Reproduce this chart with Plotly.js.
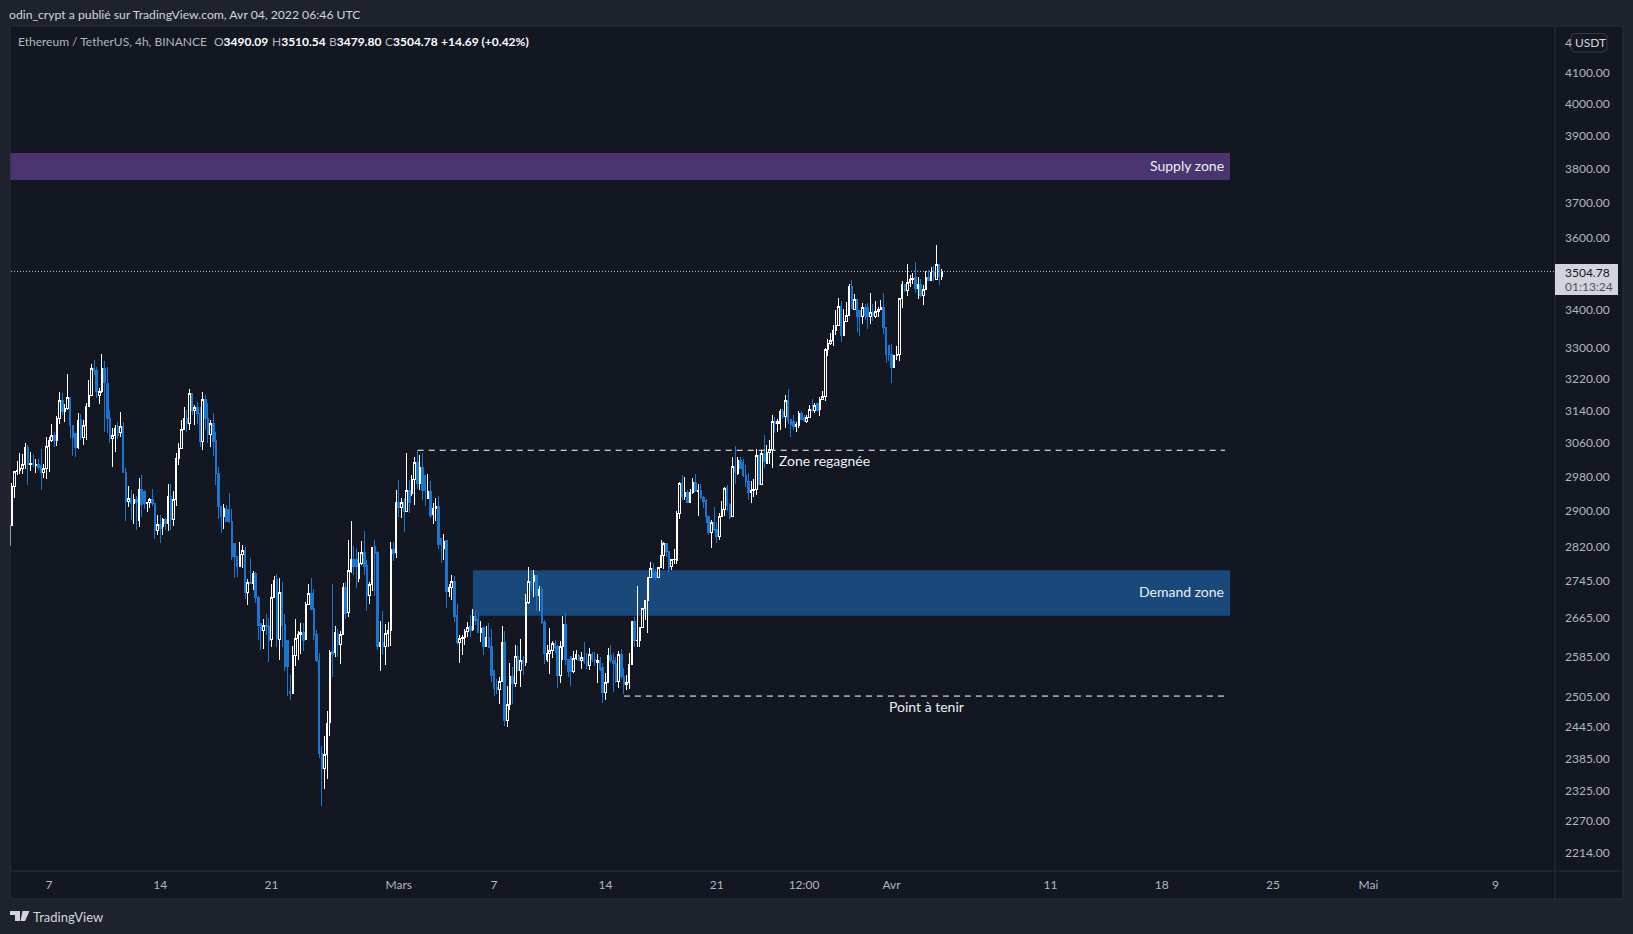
<!DOCTYPE html>
<html><head><meta charset="utf-8">
<script src="https://cdn.plot.ly/plotly-3.0.1.min.js"></script>
<style>html,body{margin:0;padding:0;background:#1e222d;overflow:hidden}#c{width:1633px;height:934px}
.boxlayer path{shape-rendering:crispEdges}</style>
</head><body><div id="c"></div>
<script>
const firstBar = Date.UTC(2022,1,4,16);
const open = [
2868,2956,2992,2994,3000,3010,3050,3010,3012,3006,
3010,3006,2990,3000,3053,3066,3079,3066,3121,3166,
3137,3145,3172,3104,3084,3050,3117,3073,3103,3150,
3178,3247,3241,3177,3187,3247,3208,3121,3071,3078,
3100,3086,3101,2990,2923,2930,2917,2928,2878,2950,
2945,2917,2920,2928,2917,2855,2870,2865,2882,2872,
2934,2880,2926,3024,3048,3094,3121,3108,3183,3139,
3148,3133,3064,3167,3121,3080,3108,3066,2988,2910,
2889,2905,2905,2877,2826,2798,2777,2802,2811,2720,
2742,2740,2761,2709,2654,2640,2650,2647,2620,2709,
2747,2621,2719,2652,2619,2516,2512,2587,2623,2631,
2635,2620,2694,2717,2685,2631,2578,2395,2367,2393,
2454,2596,2594,2633,2610,2631,2730,2676,2765,2792,
2792,2750,2783,2807,2779,2713,2736,2820,2808,2606,
2615,2606,2633,2639,2814,2806,2919,2908,2920,2900,
2947,2941,2973,3014,2965,3002,2982,2930,2946,2892,
2906,2911,2838,2815,2833,2722,2731,2743,2670,2615,
2622,2624,2638,2647,2642,2668,2662,2636,2646,2606,
2625,2607,2558,2524,2519,2536,2615,2458,2489,2546,
2532,2585,2557,2578,2573,2698,2744,2743,2757,2713,
2726,2656,2580,2592,2597,2613,2606,2548,2606,2652,
2580,2585,2555,2582,2587,2577,2584,2575,2567,2590,
2580,2574,2578,2563,2513,2533,2587,2578,2572,2535,
2589,2545,2530,2533,2570,2659,2618,2619,2645,2685,
2703,2752,2771,2764,2753,2773,2800,2827,2809,2775,
2791,2790,2895,2964,2934,2944,2921,2944,2966,2946,
2948,2932,2925,2888,2852,2875,2859,2843,2888,2904,
2955,2916,2888,3004,2988,3018,3013,2984,2970,2944,
2948,2949,3031,2962,3035,3012,3037,3046,3114,3108,
3108,3137,3126,3166,3118,3112,3100,3104,3133,3124,
3114,3122,3142,3140,3158,3143,3168,3174,3296,3312,
3319,3345,3357,3410,3332,3370,3385,3464,3400,3428,
3398,3381,3407,3407,3381,3393,3382,3395,3402,3407,
3352,3305,3282,3249,3279,3283,3430,3468,3451,3474,
3482,3487,3457,3468,3439,3455,3488,3481,3504,3483,3523,3490.09];
const high = [
2965,2992,3018,3036,3034,3060,3056,3038,3034,3022,
3022,3046,3010,3074,3074,3108,3087,3127,3186,3183,
3156,3232,3174,3104,3084,3135,3131,3117,3158,3217,
3257,3269,3251,3196,3284,3266,3249,3141,3098,3104,
3112,3137,3111,3000,2958,2948,2939,2936,2976,2984,
2948,2920,2930,2951,2918,2891,2892,2885,2885,2964,
2964,2947,3037,3060,3117,3148,3141,3195,3183,3154,
3160,3149,3186,3178,3158,3117,3135,3088,3004,2913,
2917,2915,2942,2906,2826,2798,2830,2824,2820,2749,
2794,2767,2763,2712,2654,2664,2674,2666,2737,2756,
2760,2750,2742,2674,2619,2549,2607,2664,2638,2654,
2654,2699,2737,2752,2728,2640,2592,2409,2429,2476,
2598,2739,2649,2643,2639,2741,2742,2835,2878,2821,
2816,2807,2833,2855,2790,2743,2819,2835,2810,2659,
2680,2653,2657,2830,2831,2950,2973,2931,2931,3037,
2973,2984,3027,3044,3032,3036,2982,2986,2970,2919,
2931,2934,2840,2848,2835,2739,2757,2755,2696,2630,
2630,2642,2657,2671,2684,2680,2676,2659,2647,2648,
2654,2643,2558,2541,2544,2649,2638,2527,2572,2565,
2610,2607,2622,2586,2717,2775,2768,2768,2757,2734,
2732,2662,2609,2644,2618,2620,2610,2618,2670,2675,
2580,2587,2596,2599,2590,2594,2615,2592,2604,2595,
2594,2590,2585,2572,2553,2604,2609,2592,2585,2596,
2601,2562,2548,2593,2659,2667,2733,2646,2685,2703,
2754,2787,2784,2771,2775,2835,2831,2827,2809,2793,
2814,2900,2968,2984,2979,2950,2952,2978,2986,2964,
2962,2935,2929,2888,2880,2910,2876,2895,2923,2956,
2961,2918,3028,3053,3028,3028,3023,3007,2990,2970,
2974,3047,3035,3043,3080,3056,3068,3130,3123,3118,
3144,3145,3179,3194,3118,3129,3112,3139,3139,3129,
3129,3153,3168,3159,3159,3174,3189,3299,3322,3338,
3360,3399,3431,3424,3402,3422,3471,3481,3442,3428,
3400,3418,3416,3418,3445,3416,3424,3407,3426,3445,
3352,3305,3309,3282,3305,3430,3479,3471,3525,3495,
3501,3530,3490,3485,3467,3507,3509,3518,3520,3579,3523,3510.54];
const low = [
2868,2930,2985,2986,2986,2998,2960,2994,3004,2988,
2996,2948,2976,2974,2992,3062,3050,3054,3108,3129,
3111,3141,3073,3030,3026,3046,3068,3056,3068,3149,
3176,3230,3171,3156,3185,3086,3084,3060,3002,3040,
3070,3076,2988,2878,2909,2879,2870,2857,2865,2887,
2905,2898,2907,2913,2837,2846,2829,2846,2857,2855,
2857,2867,2911,3008,3046,3092,3086,3092,3130,3104,
3108,3050,3044,3092,3060,3050,3030,2960,2882,2851,
2859,2876,2872,2790,2750,2753,2776,2772,2706,2692,
2740,2725,2697,2619,2598,2600,2629,2575,2605,2709,
2605,2578,2605,2556,2507,2498,2512,2566,2578,2591,
2596,2619,2694,2682,2619,2575,2387,2298,2329,2348,
2428,2545,2584,2585,2571,2631,2664,2668,2761,2757,
2729,2742,2779,2757,2680,2695,2722,2713,2599,2557,
2589,2568,2606,2607,2789,2795,2887,2884,2853,2898,
2895,2936,2914,2952,2950,2926,2913,2927,2885,2871,
2878,2814,2783,2790,2687,2711,2704,2658,2610,2572,
2589,2610,2626,2625,2639,2650,2633,2615,2589,2605,
2603,2534,2506,2511,2490,2536,2448,2445,2479,2491,
2525,2557,2524,2548,2567,2696,2723,2710,2680,2680,
2653,2570,2575,2550,2582,2592,2522,2532,2578,2568,
2545,2527,2553,2578,2576,2561,2571,2561,2558,2575,
2566,2532,2556,2493,2499,2533,2572,2515,2533,2523,
2541,2511,2518,2520,2568,2606,2606,2606,2645,2661,
2633,2750,2752,2746,2752,2773,2771,2798,2764,2768,
2782,2782,2882,2925,2925,2919,2921,2940,2944,2889,
2929,2907,2873,2846,2817,2855,2829,2834,2888,2888,
2900,2882,2888,2963,2985,3000,2980,2956,2925,2919,
2933,2937,2961,2960,3000,3012,3010,3000,3085,3086,
3092,3120,3096,3106,3076,3092,3086,3098,3116,3112,
3110,3122,3137,3134,3140,3127,3166,3164,3278,3307,
3305,3332,3357,3315,3332,3370,3385,3401,3400,3342,
3330,3362,3373,3349,3362,3371,3378,3382,3400,3336,
3261,3264,3210,3247,3269,3264,3404,3449,3436,3462,
3471,3445,3430,3434,3412,3455,3479,3479,3479,3483,3467,3479.80];
const close = [
2956,2992,2994,3000,3010,3050,3010,3012,3008,3010,
3002,2990,3000,3053,3066,3079,3066,3121,3166,3137,
3145,3172,3102,3073,3050,3116,3073,3103,3150,3178,
3247,3241,3187,3187,3247,3210,3120,3071,3078,3096,
3078,3101,2990,2923,2930,2917,2928,2920,2950,2916,
2917,2920,2928,2917,2855,2870,2861,2882,2872,2934,
2880,2926,3024,3048,3094,3121,3108,3183,3139,3148,
3133,3064,3167,3121,3080,3108,3064,2988,2910,2889,
2906,2876,2876,2798,2798,2777,2802,2811,2720,2742,
2740,2761,2709,2650,2640,2650,2647,2619,2709,2746,
2622,2719,2650,2565,2565,2512,2587,2623,2631,2635,
2619,2694,2717,2683,2630,2578,2395,2367,2393,2452,
2593,2590,2635,2611,2631,2730,2675,2767,2792,2775,
2775,2783,2807,2776,2713,2736,2819,2805,2606,2615,
2606,2633,2639,2814,2805,2919,2908,2919,2900,2947,
2920,2973,3014,2965,3002,2948,2947,2945,2891,2906,
2911,2825,2825,2831,2722,2731,2743,2669,2615,2622,
2624,2638,2646,2640,2668,2661,2636,2643,2606,2625,
2604,2548,2522,2519,2536,2615,2458,2489,2546,2532,
2585,2557,2577,2571,2698,2744,2735,2757,2713,2726,
2655,2592,2592,2597,2613,2603,2548,2606,2652,2580,
2556,2555,2582,2589,2577,2584,2575,2567,2590,2580,
2577,2578,2560,2513,2533,2587,2577,2572,2535,2589,
2545,2530,2533,2570,2659,2618,2619,2645,2685,2703,
2752,2771,2753,2753,2773,2800,2827,2809,2771,2791,
2792,2895,2964,2933,2944,2921,2944,2966,2946,2948,
2931,2923,2888,2852,2875,2859,2843,2888,2904,2953,
2914,2885,3004,2990,3018,3000,2984,2968,2944,2948,
2949,3031,2962,3035,3016,3037,3046,3112,3108,3112,
3137,3126,3166,3116,3106,3100,3106,3133,3118,3116,
3122,3142,3140,3152,3140,3168,3174,3296,3312,3319,
3345,3357,3409,3332,3370,3385,3464,3403,3428,3381,
3381,3407,3385,3381,3393,3384,3395,3402,3407,3352,
3282,3282,3249,3279,3283,3430,3468,3451,3474,3482,
3485,3457,3468,3439,3455,3488,3481,3501,3490,3523,3490,3504.78];
const priceTicks = [4100,4000,3900,3800,3700,3600,3400,3300,3220,3140,3060,2980,2900,2820,2745,2665,2585,2505,2445,2385,2325,2270,2214];
const dateTicks = ["2022-02-07","2022-02-14","2022-02-21","2022-03-01","2022-03-07","2022-03-14","2022-03-21","2022-03-26 12:00","2022-04-01","2022-04-11","2022-04-18","2022-04-25","2022-05-01","2022-05-09"];
const dateLabels = ["7","14","21","Mars","7","14","21","12:00","Avr","11","18","25","Mai","9"];
const supplyZone = [3767,3848], demandZone = [2670,2768];
const regainLevel = 3043, holdLevel = 2506, lastPrice = 3504.78;
const clippedBar = [2868,2822];

const times = open.map((_,i)=>new Date(firstBar+i*4*3600e3).toISOString().slice(0,16).replace("T"," "));

const L=11,R=1555,T=27,B=871;              // plot frame in page pixels
const X=p=>(p-L)/(R-L), Y=p=>(B-p)/(B-T);
const FONT='Lato, "Noto Sans", sans-serif';
const GREY='#b2b5be', LINE='#2a2e39', BG='#131722', PAGE='#1e222d';
const rangeStart="2022-02-04 14:37", rangeEnd="2022-05-12 17:45", zoneEnd="2022-04-22 07:10";

const pRect=(x0,y0,x1,y1,fill,line)=>({type:'rect',xref:'paper',yref:'paper',x0:X(x0),x1:X(x1),y0:Y(y0),y1:Y(y1),fillcolor:fill,line:{color:line||fill,width:line?1:0},layer:'below'});
const txt=(px,py,text,color,size,anchor,extra)=>Object.assign({xref:'paper',yref:'paper',x:X(px),y:Y(py),text,showarrow:false,xanchor:anchor||'left',yanchor:'middle',borderpad:0,borderwidth:0,font:{family:FONT,size:size||12,color:color||GREY}},extra||{});
const dTxt=(x,y,text,anchor)=>({xref:'x',yref:'y',x,y:Math.log10(y),text,showarrow:false,xanchor:anchor,yanchor:'middle',font:{family:FONT,size:14,color:'#eef0f6'}});
const val=v=>`<b><span style="color:#ffffff">${v}</span></b>`;

const shapes=[
 pRect(10,26,1623,899,BG,LINE),
 {type:'rect',xref:'paper',yref:'y',x0:X(10.5),x1:X(1230),y0:supplyZone[0],y1:supplyZone[1],fillcolor:'#4a3570',line:{width:0},layer:'below'},
 {type:'rect',xref:'x',yref:'y',x0:"2022-03-05 16:00",x1:zoneEnd,y0:demandZone[0],y1:demandZone[1],fillcolor:'#19487a',line:{width:0},layer:'below'},
 {type:'line',xref:'paper',yref:'y',x0:X(10.5),x1:X(10.5),y0:clippedBar[0],y1:clippedBar[1],line:{color:'#9598a1',width:1}},
 {type:'line',xref:'x',yref:'y',x0:"2022-03-02 04:40",x1:"2022-04-21 23:30",y0:regainLevel,y1:regainLevel,line:{color:'#ffffff',width:1,dash:'6px,5px'}},
 {type:'line',xref:'x',yref:'y',x0:"2022-03-15 04:00",x1:"2022-04-21 23:30",y0:holdLevel,y1:holdLevel,line:{color:'#ffffff',width:1,dash:'6px,5px'}},
 {type:'line',xref:'paper',yref:'y',x0:0,x1:1,y0:lastPrice,y1:lastPrice,line:{color:'#c8cad2',width:1,dash:'1px,2px'}},
 {type:'line',xref:'paper',yref:'paper',x0:X(1555),x1:X(1555),y0:Y(26),y1:Y(899),line:{color:LINE,width:1}},
 {type:'line',xref:'paper',yref:'paper',x0:X(10),x1:X(1623),y0:Y(871),y1:Y(871),line:{color:LINE,width:1}},
 Object.assign(pRect(1555,264,1618,295,'#d1d4dc'),{layer:'above'}),
 {type:'path',xref:'paper',yref:'paper',path:`M${X(1575)},${Y(33.5)} L${X(1603)},${Y(33.5)} Q${X(1607)},${Y(33.5)} ${X(1607)},${Y(37.5)} L${X(1607)},${Y(48)} Q${X(1607)},${Y(52)} ${X(1603)},${Y(52)} L${X(1575)},${Y(52)} Q${X(1571)},${Y(52)} ${X(1571)},${Y(48)} L${X(1571)},${Y(37.5)} Q${X(1571)},${Y(33.5)} ${X(1575)},${Y(33.5)} Z`,line:{color:'#363a45',width:1}},
 {type:'path',xref:'paper',yref:'paper',path:`M${X(10)},${Y(911)} L${X(20)},${Y(911)} L${X(20)},${Y(921)} L${X(15)},${Y(921)} L${X(15)},${Y(915)} L${X(10)},${Y(915)} Z M${X(22.5)},${Y(911)} L${X(29.5)},${Y(911)} L${X(25)},${Y(921)} L${X(20.5)},${Y(921)} Z`,fillcolor:'#d1d4dc',line:{width:0},layer:'above'}
];
const annotations=[
 txt(9,15,'odin_crypt a publié sur TradingView.com, Avr 04, 2022 06:46 UTC','#d1d4dc',12.2),
 txt(18,41.5,'Ethereum / TetherUS, 4h, BINANCE',GREY,12),
 txt(214,41.5,'O'+val('3490.09'),GREY,12),
 txt(272,41.5,'H'+val('3510.54'),GREY,12),
 txt(329,41.5,'B'+val('3479.80'),GREY,12),
 txt(385,41.5,'C'+val('3504.78'),GREY,12),
 txt(441,41.5,'<b>+14.69 (+0.42%)</b>','#ffffff',12),
 txt(1565,43,'4',GREY,12),
 txt(1575,43,'USDT','#d1d4dc',12),
 txt(1565,272.5,'3504.78','#131722',12),
 txt(1565,286.5,'01:13:24','#50535e',12),
 dTxt(zoneEnd,3812,'Supply zone ','right'),
 dTxt(zoneEnd,2722,'Demand zone ','right'),
 dTxt("2022-03-24 19:00",3018,'Zone regagnée','left'),
 dTxt("2022-03-31 17:00",2486,'Point à tenir','left'),
 txt(33,916.5,'TradingView','#d1d4dc',13)
];
const data=[{type:'candlestick',x:times,open,high,low,close,hoverinfo:'skip',whiskerwidth:0,
 increasing:{line:{color:'#ffffff',width:1},fillcolor:BG},
 decreasing:{line:{color:'#1976d2',width:1},fillcolor:'#1976d2'}}];
const layout={width:1633,height:934,margin:{l:L,r:1633-R,t:T,b:934-B,pad:0},
 paper_bgcolor:PAGE,plot_bgcolor:'rgba(0,0,0,0)',showlegend:false,boxgap:0.2,hovermode:false,
 xaxis:{type:'date',range:[rangeStart,rangeEnd],rangeslider:{visible:false},tickmode:'array',tickvals:dateTicks,ticktext:dateLabels,showgrid:false,zeroline:false,ticks:'',tickangle:0,tickfont:{family:FONT,size:12,color:GREY},showline:false,ticklabelstandoff:5},
 yaxis:{type:'log',side:'right',range:[Math.log10(2182.6),Math.log10(4251)],tickmode:'array',tickvals:priceTicks,ticktext:priceTicks.map(v=>v.toFixed(2)),showgrid:false,zeroline:false,ticks:'',tickfont:{family:FONT,size:12,color:GREY},showline:false,ticklabelstandoff:9},
 shapes,annotations};
Plotly.newPlot('c',data,layout,{displayModeBar:false,staticPlot:true});
</script></body></html>
